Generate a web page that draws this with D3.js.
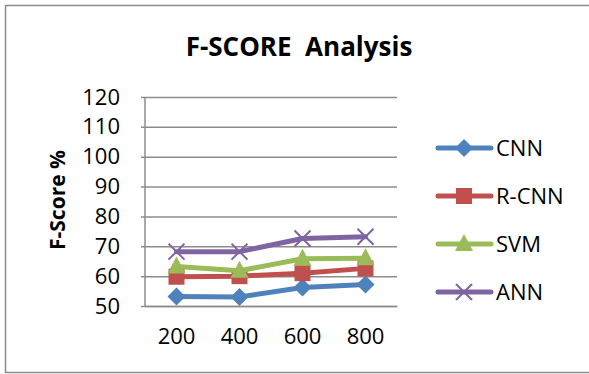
<!DOCTYPE html>
<html>
<head>
<meta charset="utf-8">
<script src="https://cdn.jsdelivr.net/npm/d3@7"></script>
<style>
  html, body { margin: 0; padding: 0; background: #fff; }
  svg { display: block; }
  text { font-family: "Open Sans", "Liberation Sans", sans-serif; fill: #000; }
</style>
</head>
<body>
<svg id="chart" width="589" height="374"></svg>
<script>
// Sample sizes on the x axis
const categories = ["200", "400", "600", "800"];
// F-score (%) per method
const cnn  = [53.2, 53.0, 56.2, 57.2];
const rcnn = [59.8, 60.0, 61.0, 62.6];
const svm  = [63.2, 61.8, 65.8, 66.0];
const ann  = [68.2, 68.2, 72.6, 73.2];
const seriesNames = ["CNN", "R-CNN", "SVM", "ANN"];
const yTicks = [50, 60, 70, 80, 90, 100, 110, 120];

const series = [
  { name: seriesNames[0], values: cnn,  color: "#4F81BD", marker: "diamond" },
  { name: seriesNames[1], values: rcnn, color: "#C0504D", marker: "square" },
  { name: seriesNames[2], values: svm,  color: "#9BBB59", marker: "triangle" },
  { name: seriesNames[3], values: ann,  color: "#8064A2", marker: "cross" }
];

const svg = d3.select("#chart");
const W = 589, H = 374;

// outer frame (right edge runs off the canvas)
svg.append("path")
  .attr("d", `M${W + 2},5.5 H5.5 V372.5 H${W + 2}`)
  .attr("fill", "none").attr("stroke", "#8c8c8c").attr("stroke-width", 1.5);

const plot = { left: 145, right: 397, top: 97, bottom: 306 };

const x = d3.scaleBand().domain(categories).range([plot.left, plot.right]);
const y = d3.scaleLinear().domain([50, 120]).range([plot.bottom, plot.top]);

// horizontal gridlines with small ticks on the left
const yAxis = d3.axisLeft(y).tickValues(yTicks).tickSize(-(plot.right - plot.left)).tickPadding(25).tickFormat(d3.format("d"));
const gy = svg.append("g").attr("transform", `translate(${plot.left},0)`).call(yAxis);
gy.select(".domain").remove();
gy.selectAll(".tick line").attr("stroke", "#8c8c8c").attr("stroke-width", 1.5).attr("x1", -4);
gy.selectAll(".tick text").attr("font-size", 22).attr("fill", "#000");

// left axis line
svg.append("line")
  .attr("x1", plot.left).attr("x2", plot.left)
  .attr("y1", plot.top).attr("y2", plot.bottom)
  .attr("stroke", "#8c8c8c").attr("stroke-width", 1.5);

// x axis labels
const xAxis = d3.axisBottom(x).tickSize(0).tickPadding(22);
const gx = svg.append("g").attr("transform", `translate(0,${plot.bottom})`).call(xAxis);
gx.select(".domain").attr("stroke", "#8c8c8c").attr("stroke-width", 1.5);
gx.selectAll(".tick text").attr("font-size", 22).attr("fill", "#000");

// title
svg.append("text")
  .attr("x", 299).attr("y", 56)
  .attr("text-anchor", "middle")
  .attr("font-size", 26).attr("font-weight", "bold")
  .style("white-space", "pre")
  .text("F-SCORE  Analysis");

// y axis title
svg.append("text")
  .attr("transform", "translate(65,200) rotate(-90)")
  .attr("text-anchor", "middle")
  .attr("font-size", 21).attr("font-weight", "bold")
  .text("F-Score %");

function drawMarker(g, type, color) {
  if (type === "diamond") {
    g.append("path").attr("d", "M0,-9 L9,0 L0,9 L-9,0 Z").attr("fill", color);
  } else if (type === "square") {
    g.append("rect").attr("x", -8).attr("y", -8).attr("width", 16).attr("height", 16).attr("fill", color);
  } else if (type === "triangle") {
    g.append("path").attr("d", "M0,-10 L9,7 L-9,7 Z").attr("fill", color);
  } else {
    g.append("path").attr("d", "M-8,-8 L8,8 M-8,8 L8,-8").attr("stroke", color).attr("stroke-width", 2).attr("fill", "none");
  }
}

const line = d3.line()
  .x((d, i) => x(categories[i]) + x.bandwidth() / 2)
  .y(d => y(d));

series.forEach(s => {
  svg.append("path")
    .attr("d", line(s.values))
    .attr("fill", "none").attr("stroke", s.color)
    .attr("stroke-width", 5).attr("stroke-linejoin", "round").attr("stroke-linecap", "round");
  s.values.forEach((v, i) => {
    const g = svg.append("g")
      .attr("transform", `translate(${x(categories[i]) + x.bandwidth() / 2},${y(v)})`);
    drawMarker(g, s.marker, s.color);
  });
});

// legend
const legendY = d3.scalePoint().domain(seriesNames).range([148, 292]);
series.forEach(s => {
  const ly = legendY(s.name);
  svg.append("line")
    .attr("x1", 438).attr("x2", 491).attr("y1", ly).attr("y2", ly)
    .attr("stroke", s.color).attr("stroke-width", 5).attr("stroke-linecap", "round");
  const g = svg.append("g").attr("transform", `translate(464,${ly})`);
  drawMarker(g, s.marker, s.color);
  svg.append("text")
    .attr("x", 496).attr("y", ly).attr("dy", "0.35em")
    .attr("font-size", 22)
    .text(s.name);
});
</script>
</body>
</html>
